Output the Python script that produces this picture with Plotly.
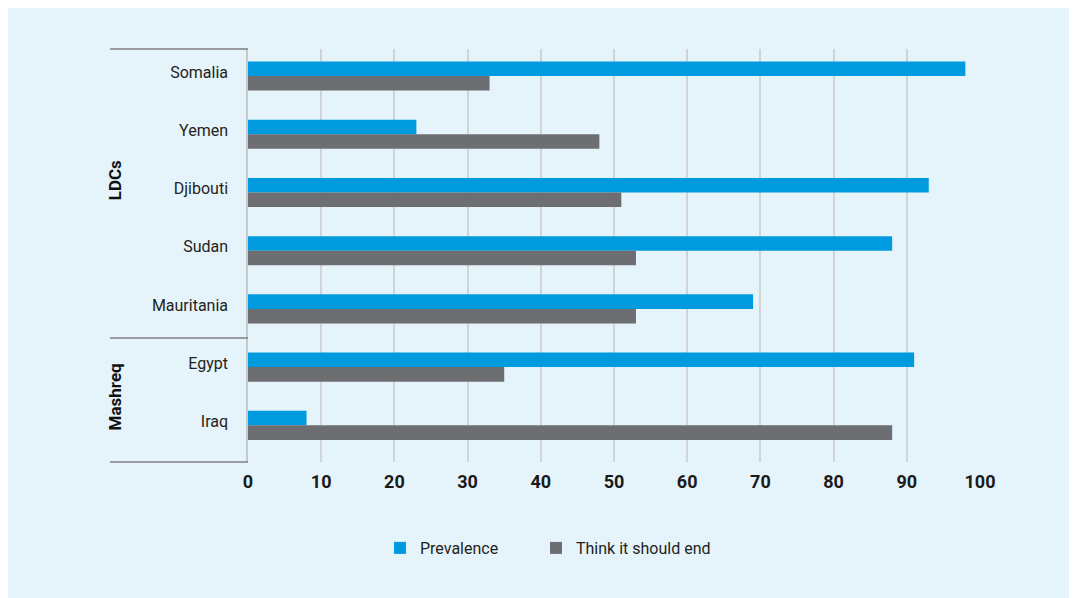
import plotly.graph_objects as go

countries = ["Somalia", "Yemen", "Djibouti", "Sudan", "Mauritania", "Egypt", "Iraq"]
prevalence = [98, 23, 93, 88, 69, 91, 8]
think_end = [33, 48, 51, 53, 53, 35, 88]
x_ticks = [0, 10, 20, 30, 40, 50, 60, 70, 80, 90, 100]

# page is rendered with an 8px body margin, so the figure is offset by 8px
OFF = 8
W, H = 1077 - OFF, 598 - OFF
L, T = 248 - OFF, 49 - OFF
R = W - (980 - OFF)
B = H - (462 - OFF)
pw, ph = W - L - R, H - T - B


def px_x(p):
    return (p - OFF - L) / pw


def px_y(p):
    return (H - B - (p - OFF)) / ph


BLUE = "#009ADE"
GRAY = "#6D6E71"
BG = "#E5F3FB"
FONT = "Roboto"

fig = go.Figure()
fig.add_trace(go.Bar(y=countries, x=prevalence, orientation="h", name="Prevalence",
                     marker=dict(color=BLUE, line=dict(width=0)), legend="legend"))
fig.add_trace(go.Bar(y=countries, x=think_end, orientation="h", name="Think it should end",
                     marker=dict(color=GRAY, line=dict(width=0)), legend="legend2"))

shapes = [
    dict(type="rect", xref="paper", yref="paper", x0=px_x(7), x1=px_x(1071),
         y0=px_y(599), y1=px_y(5), fillcolor=BG, line=dict(width=0), layer="below"),
    dict(type="line", xref="paper", yref="paper", x0=px_x(110), x1=0, y0=1, y1=1,
         line=dict(color="#808080", width=1.5)),
    dict(type="line", xref="paper", yref="y", x0=px_x(110), x1=0, y0=4.5, y1=4.5,
         line=dict(color="#808080", width=1.5)),
    dict(type="line", xref="paper", yref="paper", x0=px_x(110), x1=0, y0=0, y1=0,
         line=dict(color="#808080", width=1.5)),
]

annotations = [
    dict(text="<b>LDCs</b>", xref="paper", yref="y", x=px_x(115), y=1.79, textangle=-90,
         xanchor="center", yanchor="middle",
         showarrow=False, font=dict(family=FONT, size=17, color="#111111")),
    dict(text="<b>Mashreq</b>", xref="paper", yref="y", x=px_x(115), y=5.52, textangle=-90,
         xanchor="center", yanchor="middle",
         showarrow=False, font=dict(family=FONT, size=17, color="#111111")),
]

legend_common = dict(orientation="h", xanchor="left", yanchor="middle",
                     bgcolor="rgba(0,0,0,0)",
                     font=dict(family=FONT, size=16, color="#231F20"))

fig.update_layout(
    width=W, height=H,
    margin=dict(l=L, r=R, t=T, b=B, pad=0),
    paper_bgcolor="white",
    plot_bgcolor="rgba(0,0,0,0)",
    barmode="group", bargap=0.5, bargroupgap=0,
    font=dict(family=FONT, size=16, color="#231F20"),
    shapes=shapes,
    annotations=annotations,
    showlegend=True,
    legend=dict(x=px_x(380), y=px_y(548), **legend_common),
    legend2=dict(x=px_x(536), y=px_y(548), **legend_common),
    xaxis=dict(range=[0, 100], tickvals=x_ticks, ticktext=[str(v) for v in x_ticks],
               showgrid=True, gridcolor="#D3D3D3", gridwidth=1.5, zeroline=False,
               showline=False, ticks="", ticklabelstandoff=7,
               tickfont=dict(family=FONT, size=18, color="#1A1A1A", weight="bold"),
               fixedrange=True),
    yaxis=dict(type="category", categoryorder="array", categoryarray=countries,
               range=[6.63, -0.465], showgrid=False, zeroline=False,
               showline=True, linecolor="#C8C8C8", linewidth=1.5,
               ticks="", ticklabelstandoff=15, ticklabelshift=4,
               tickfont=dict(family=FONT, size=16, color="#231F20"),
               fixedrange=True),
)

fig.write_html("out.html")
